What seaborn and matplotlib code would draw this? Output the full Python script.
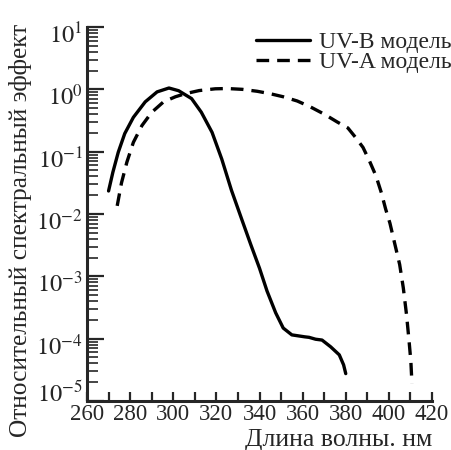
import numpy as np
import pandas as pd
import matplotlib
matplotlib.use("Agg")
import matplotlib.pyplot as plt
import matplotlib.ticker as mticker
import matplotlib.transforms as mtransforms
import seaborn as sns

# ---- data ----
uvb_wavelength = [270, 272, 274.5, 277.5, 281.5, 287, 292.5, 298, 302.5, 308.5, 313, 318,
                  322.5, 327, 332, 336, 340, 343.5, 347.5, 351, 355, 361, 363, 366, 369,
                  373, 377, 379, 380]
uvb_effect = [0.0234, 0.0468, 0.098, 0.195, 0.355, 0.63, 0.91, 1.05, 0.95, 0.71, 0.43, 0.204,
              0.076, 0.024, 0.0078, 0.0032, 0.00135, 0.00058, 0.00026, 0.000148, 0.000115,
              0.000107, 0.000105, 0.000098, 0.000095, 0.000074, 0.000055, 0.000038, 0.0000275]

uva_wavelength = [274, 276, 278.5, 281.5, 285.5, 290, 295.5, 301, 305.5, 312, 319.5, 325,
                  332, 339, 345, 351, 357.5, 363.5, 370, 376, 381, 384.5, 388, 391, 394,
                  396.5, 398.5, 400.5, 402.5, 405, 406.7, 408.2, 409.4, 410.2, 410.7]
uva_effect = [0.0135, 0.0316, 0.068, 0.141, 0.263, 0.427, 0.63, 0.76, 0.85, 0.955, 1.02, 1.03,
              1.0, 0.93, 0.85, 0.76, 0.65, 0.525, 0.40, 0.30, 0.24, 0.17, 0.117, 0.071, 0.041,
              0.022, 0.012, 0.0071, 0.0036, 0.00155, 0.00065, 0.00024, 0.000089, 0.000043,
              0.000019]

series_labels = ["UV-B модель", "UV-A модель"]
x_label = "Длина волны. нм"
y_label = "Относительный спектральный эффект"
x_ticks = [260, 280, 300, 320, 340, 360, 380, 400, 420]
y_ticks = [1e-5, 1e-4, 1e-3, 1e-2, 1e-1, 1e0, 1e1]

# ---- style ----
sns.set_style("ticks")
plt.rcParams["font.family"] = ["Liberation Serif", "DejaVu Serif"]
plt.rcParams["mathtext.fontset"] = "stix"

fig = plt.figure(figsize=(4.52, 4.5), dpi=100)
ax = fig.add_axes([87 / 452, 1 - 401 / 450, (432 - 87) / 452, (401 - 27) / 450])

df_b = pd.DataFrame({"x": uvb_wavelength, "y": uvb_effect})
df_a = pd.DataFrame({"x": uva_wavelength, "y": uva_effect})

sns.lineplot(data=df_b, x="x", y="y", sort=False, color="black", lw=2.4,
             label=series_labels[0], ax=ax, estimator=None)
sns.lineplot(data=df_a, x="x", y="y", sort=False, color="black", lw=2.4,
             linestyle=(0, (3.8, 2.4)), label=series_labels[1], ax=ax, estimator=None)

ax.set_yscale("log")
ax.set_xlim(260, 420)
ax.set_ylim(1e-5, 1e1)
ax.set_xticks(x_ticks)
ax.xaxis.set_minor_locator(mticker.MultipleLocator(10))
ax.yaxis.set_major_locator(mticker.FixedLocator(y_ticks))
ax.yaxis.set_minor_locator(mticker.LogLocator(base=10, subs=np.arange(2, 10), numticks=20))
ax.yaxis.set_minor_formatter(mticker.NullFormatter())


def ytick_fmt(v, pos):
    e = int(round(np.log10(v)))
    if e == -5:
        return ""
    return r"$10^{%d}$" % e


ax.yaxis.set_major_formatter(mticker.FuncFormatter(ytick_fmt))

for s in ["top", "right"]:
    ax.spines[s].set_visible(False)
for s in ["left", "bottom"]:
    ax.spines[s].set_linewidth(2.2)

ax.tick_params(axis="y", which="major", direction="in", length=12.5, width=1.6,
               labelsize=17.5, pad=3)
ax.tick_params(axis="y", which="minor", direction="in", length=8, width=1.2)
ax.tick_params(axis="x", which="both", direction="in", length=6.5, width=1.6,
               labelsize=16.5, pad=2)

# lowest decade label sits just above the spine in the reference
ax.text(-0.012, 0.0, r"$10^{-5}$", transform=ax.transAxes, ha="right", va="baseline",
        fontsize=17.5)

ax.set_xlabel(x_label, fontsize=18.5, loc="right", labelpad=3)
ax.set_ylabel(y_label, fontsize=18.3)
ax.yaxis.set_label_coords(-0.158, 0.455)

leg = ax.legend(loc="upper right", bbox_to_anchor=(1.0, 0.93),
                bbox_transform=fig.transFigure, frameon=False, fontsize=17,
                handlelength=2.3, handletextpad=0.4, labelspacing=-0.05,
                borderpad=0.0, borderaxespad=0.0)

fig.canvas.draw()
shift = mtransforms.ScaledTranslation(0, -6 / 100, fig.dpi_scale_trans)
for lab in ax.get_yticklabels():
    lab.set_transform(lab.get_transform() + shift)

fig.savefig("out.png", dpi=100)
